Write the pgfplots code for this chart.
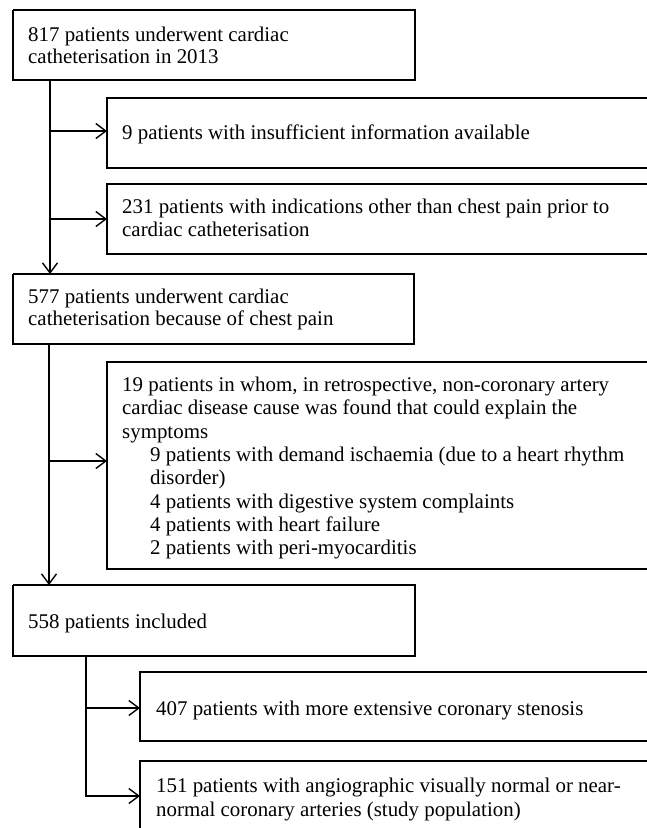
\documentclass[border=0pt]{standalone}
\usepackage{fontspec}
\setmainfont{Liberation Serif}
\usepackage{pgfplots}
\pgfplotsset{compat=1.18}
\usetikzlibrary{arrows.meta}
\tikzset{
  box/.style={line width=1.9pt},
  arr/.style={line width=1.4pt, -{Straight Barb[length=10pt,width=15pt,line width=1.4pt]}},
  txt/.style={anchor=base west, inner sep=0pt, font=\fontsize{20.9}{23}\selectfont},
}
\begin{document}
\begin{tikzpicture}
\begin{axis}[
  width=647pt, height=828pt, scale only axis,
  xmin=0, xmax=647, ymin=0, ymax=828, y dir=reverse,
  axis lines=none, clip=true,
  every axis plot/.append style={black, mark=none, line join=miter},
]
% boxes
\addplot[box] coordinates {(13,10) (415,10) (415,80) (13,80) (13,10)};
\addplot[box] coordinates {(647,98) (107,98) (107,168) (647,168)};
\addplot[box] coordinates {(647,184) (107,184) (107,254) (647,254)};
\addplot[box] coordinates {(13,274) (414,274) (414,344) (13,344) (13,274)};
\addplot[box] coordinates {(647,362) (107,362) (107,569) (647,569)};
\addplot[box] coordinates {(13,585) (415,585) (415,656) (13,656) (13,585)};
\addplot[box] coordinates {(647,672) (140,672) (140,741) (647,741)};
\addplot[box] coordinates {(647,761) (140,761) (140,830)};
% connectors
\addplot[arr] coordinates {(50,80) (50,274)};
\addplot[arr] coordinates {(50,131) (107,131)};
\addplot[arr] coordinates {(50,219) (107,219)};
\addplot[arr] coordinates {(49,344) (49,585)};
\addplot[arr] coordinates {(49,461) (107,461)};
\addplot[arr] coordinates {(86,708) (140,708)};
\addplot[arr] coordinates {(86,656) (86,796) (140,796)};
% texts
\node[txt] at (axis cs:28,41) {817 patients underwent cardiac};
\node[txt] at (axis cs:28,63.5) {catheterisation in 2013};
\node[txt] at (axis cs:122,139) {9 patients with insufficient information available};
\node[txt] at (axis cs:122,213.5) {231 patients with indications other than chest pain prior to};
\node[txt] at (axis cs:122,236.5) {cardiac catheterisation};
\node[txt] at (axis cs:28,303) {577 patients underwent cardiac};
\node[txt] at (axis cs:28,325.5) {catheterisation because of chest pain};
\node[txt] at (axis cs:122,391.5) {19 patients in whom, in retrospective, non-coronary artery};
\node[txt] at (axis cs:122,414.8) {cardiac disease cause was found that could explain the};
\node[txt] at (axis cs:122,438.1) {symptoms};
\node[txt] at (axis cs:150,461.4) {9 patients with demand ischaemia (due to a heart rhythm};
\node[txt] at (axis cs:150,484.7) {disorder)};
\node[txt] at (axis cs:150,508) {4 patients with digestive system complaints};
\node[txt] at (axis cs:150,531.3) {4 patients with heart failure};
\node[txt] at (axis cs:150,554.6) {2 patients with peri-myocarditis};
\node[txt] at (axis cs:28,628) {558 patients included};
\node[txt] at (axis cs:156,715) {407 patients with more extensive coronary stenosis};
\node[txt] at (axis cs:156,792) {151 patients with angiographic visually normal or near-};
\node[txt] at (axis cs:156,816) {normal coronary arteries (study population)};
\end{axis}
\pgfresetboundingbox
\path (current axis.south west) rectangle (current axis.north east);
\end{tikzpicture}
\end{document}
